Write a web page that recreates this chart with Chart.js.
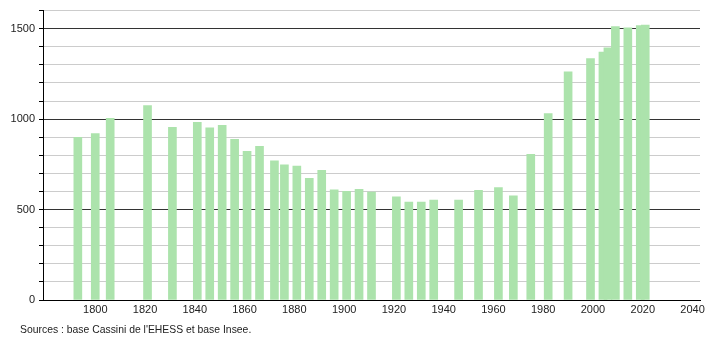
<!DOCTYPE html>
<html>
<head>
<meta charset="utf-8">
<script src="https://cdn.jsdelivr.net/npm/chart.js@4/dist/chart.umd.min.js"></script>
<style>
  body { margin: 0; background: #fff; }
  #wrap { position: relative; width: 710px; height: 340px; }
  #src { position: absolute; left: 20px; top: 324px; font: 10.4px "Liberation Sans", Arial, sans-serif; color: #222; }
</style>
</head>
<body>
<div id="wrap">
  <canvas id="pop" width="710" height="340"></canvas>
  <div id="src">Sources : base Cassini de l'EHESS et base Insee.</div>
</div>
<script>
// census years and population
const years = [1793, 1800, 1806, 1821, 1831, 1841, 1846, 1851, 1856, 1861, 1866, 1872, 1876, 1881,
  1886, 1891, 1896, 1901, 1906, 1911, 1921, 1926, 1931, 1936, 1946, 1954, 1962, 1968,
  1975, 1982, 1990, 1999, 2004, 2006, 2009, 2014, 2019, 2021];
const population = [900, 920, 1005, 1075, 955, 982, 952, 966, 888, 822, 850, 769, 747, 741,
  673, 717, 609, 601, 612, 596, 570, 541, 541, 552, 553, 607, 622, 576,
  805, 1030, 1262, 1335, 1370, 1394, 1512, 1505, 1517, 1520];
const xTicks = [1800, 1820, 1840, 1860, 1880, 1900, 1920, 1940, 1960, 1980, 2000, 2020, 2040];
const yLabels = [0, 500, 1000, 1500];

const font = { family: "'Liberation Sans', Arial, sans-serif", size: 11 };

new Chart("pop", {
  type: "bar",
  data: {
    datasets: [{
      data: years.map((y, i) => ({ x: y, y: population[i] })),
      backgroundColor: "#ace3ac",
      borderWidth: 0,
      barThickness: 8
    }]
  },
  options: {
    responsive: false,
    animation: false,
    layout: { padding: { top: 10, right: 10, left: 0, bottom: 0 } },
    plugins: { legend: { display: false }, tooltip: { enabled: false } },
    scales: {
      x: {
        type: "linear",
        offset: false,
        min: 1779,
        max: 2043,
        afterBuildTicks: s => { s.ticks = xTicks.map(v => ({ value: v })); },
        afterFit: s => { s.height = 40; },
        grid: { display: false, drawTicks: false },
        border: { color: "#000" },
        ticks: { font, color: "#222", padding: 3, maxRotation: 0, autoSkip: false, callback: v => String(v) }
      },
      y: {
        min: 0,
        max: 1600,
        afterFit: s => { s.width = 43; },
        grid: {
          color: c => (c.tick && c.tick.value % 500 === 0 ? "#333" : "#ccc"),
          tickColor: "#000",
          tickLength: 4
        },
        border: { color: "#000" },
        ticks: {
          stepSize: 100,
          font,
          color: "#222",
          padding: 4,
          callback: v => (yLabels.includes(v) ? String(v) : "")
        }
      }
    }
  }
});
</script>
</body>
</html>
